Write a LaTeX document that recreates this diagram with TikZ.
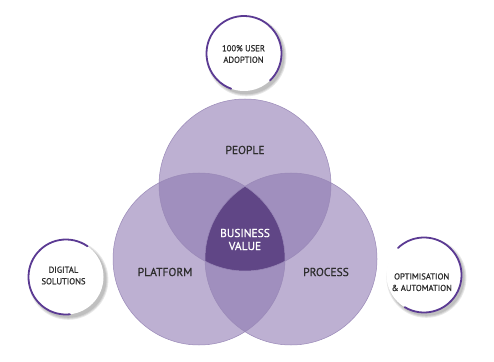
\documentclass[tikz,border=0pt]{standalone}
\usepackage{fontspec}
\setmainfont{PT Sans}
\newfontfamily\medfont{PT Sans}[FakeBold=0.9]
\definecolor{vone}{HTML}{BDB0D2}
\definecolor{vtwo}{HTML}{A08FBE}
\definecolor{vthree}{HTML}{604686}
\definecolor{vline}{HTML}{9A89B8}
\definecolor{arcpurple}{HTML}{5B3A93}
\definecolor{txt}{HTML}{2E2E2E}
\tikzset{
  bigtext/.style={font=\medfont\fontsize{11.5}{13}\selectfont, text=txt, align=center, inner sep=0pt},
  smalltext/.style={font=\medfont\fontsize{8.6}{11.5}\selectfont, text=txt, align=center, inner sep=0pt},
  ring/.style={draw=arcpurple, line width=1.8pt, line cap=round},
  shadowfill/.style={fill=black, opacity=0.09},
}
\begin{document}
\begin{tikzpicture}[x=1pt,y=1pt]
\useasboundingbox (0,0) rectangle (494,361);
\fill[white] (0,0) rectangle (494,361);
% centres
\coordinate (ct) at (245,176);
\coordinate (cl) at (199,102);
\coordinate (cr) at (291,102);
\def\R{86}
% single regions
\fill[vone] (ct) circle (\R);
\fill[vone] (cl) circle (\R);
\fill[vone] (cr) circle (\R);
% double overlaps
\begin{scope}
  \clip (ct) circle (\R);
  \fill[vtwo] (cl) circle (\R);
  \fill[vtwo] (cr) circle (\R);
\end{scope}
\begin{scope}
  \clip (cl) circle (\R);
  \fill[vtwo] (cr) circle (\R);
\end{scope}
% triple
\begin{scope}
  \clip (ct) circle (\R);
  \clip (cl) circle (\R);
  \fill[vthree] (cr) circle (\R);
\end{scope}
% outlines
\draw[vline, line width=0.5pt] (ct) circle (\R) (cl) circle (\R) (cr) circle (\R);
% labels
\node[bigtext] (people) at (245,211) {PEOPLE};
\node[bigtext] (platform) at (165,89) {PLATFORM};
\node[bigtext] (process) at (326,89) {PROCESS};
\node[bigtext, text=white] (value) at (245,121.5) {BUSINESS\\VALUE};
% small circles
\coordinate (st) at (244,307.5);
\coordinate (sl) at (66,84);
\coordinate (sr) at (424,86);
\def\r{37.5}
\foreach \c in {st,sl,sr}{
  \foreach \d in {3.5,2.5,1.5}{
    \fill[shadowfill] ([shift={(2.4,-2.8)}]\c) circle (\r+\d-1);
  }
  \fill[white] (\c) circle (\r);
}
\draw[ring] ([shift={(-46:\r)}]st) arc[start angle=-46, end angle=250, radius=\r];
\draw[ring] ([shift={(55:\r)}]sl) arc[start angle=55, end angle=276, radius=\r];
\draw[ring] ([shift={(-121:\r)}]sr) arc[start angle=-121, end angle=134, radius=\r];
\node[smalltext] (adoption) at (243.5,307) {100\% USER\\ADOPTION};
\node[smalltext] (digital) at (63.5,85.5) {DIGITAL\\SOLUTIONS};
\node[smalltext] (optim) at (421.7,78.8) {OPTIMISATION\\\& AUTOMATION};
\end{tikzpicture}
\end{document}
